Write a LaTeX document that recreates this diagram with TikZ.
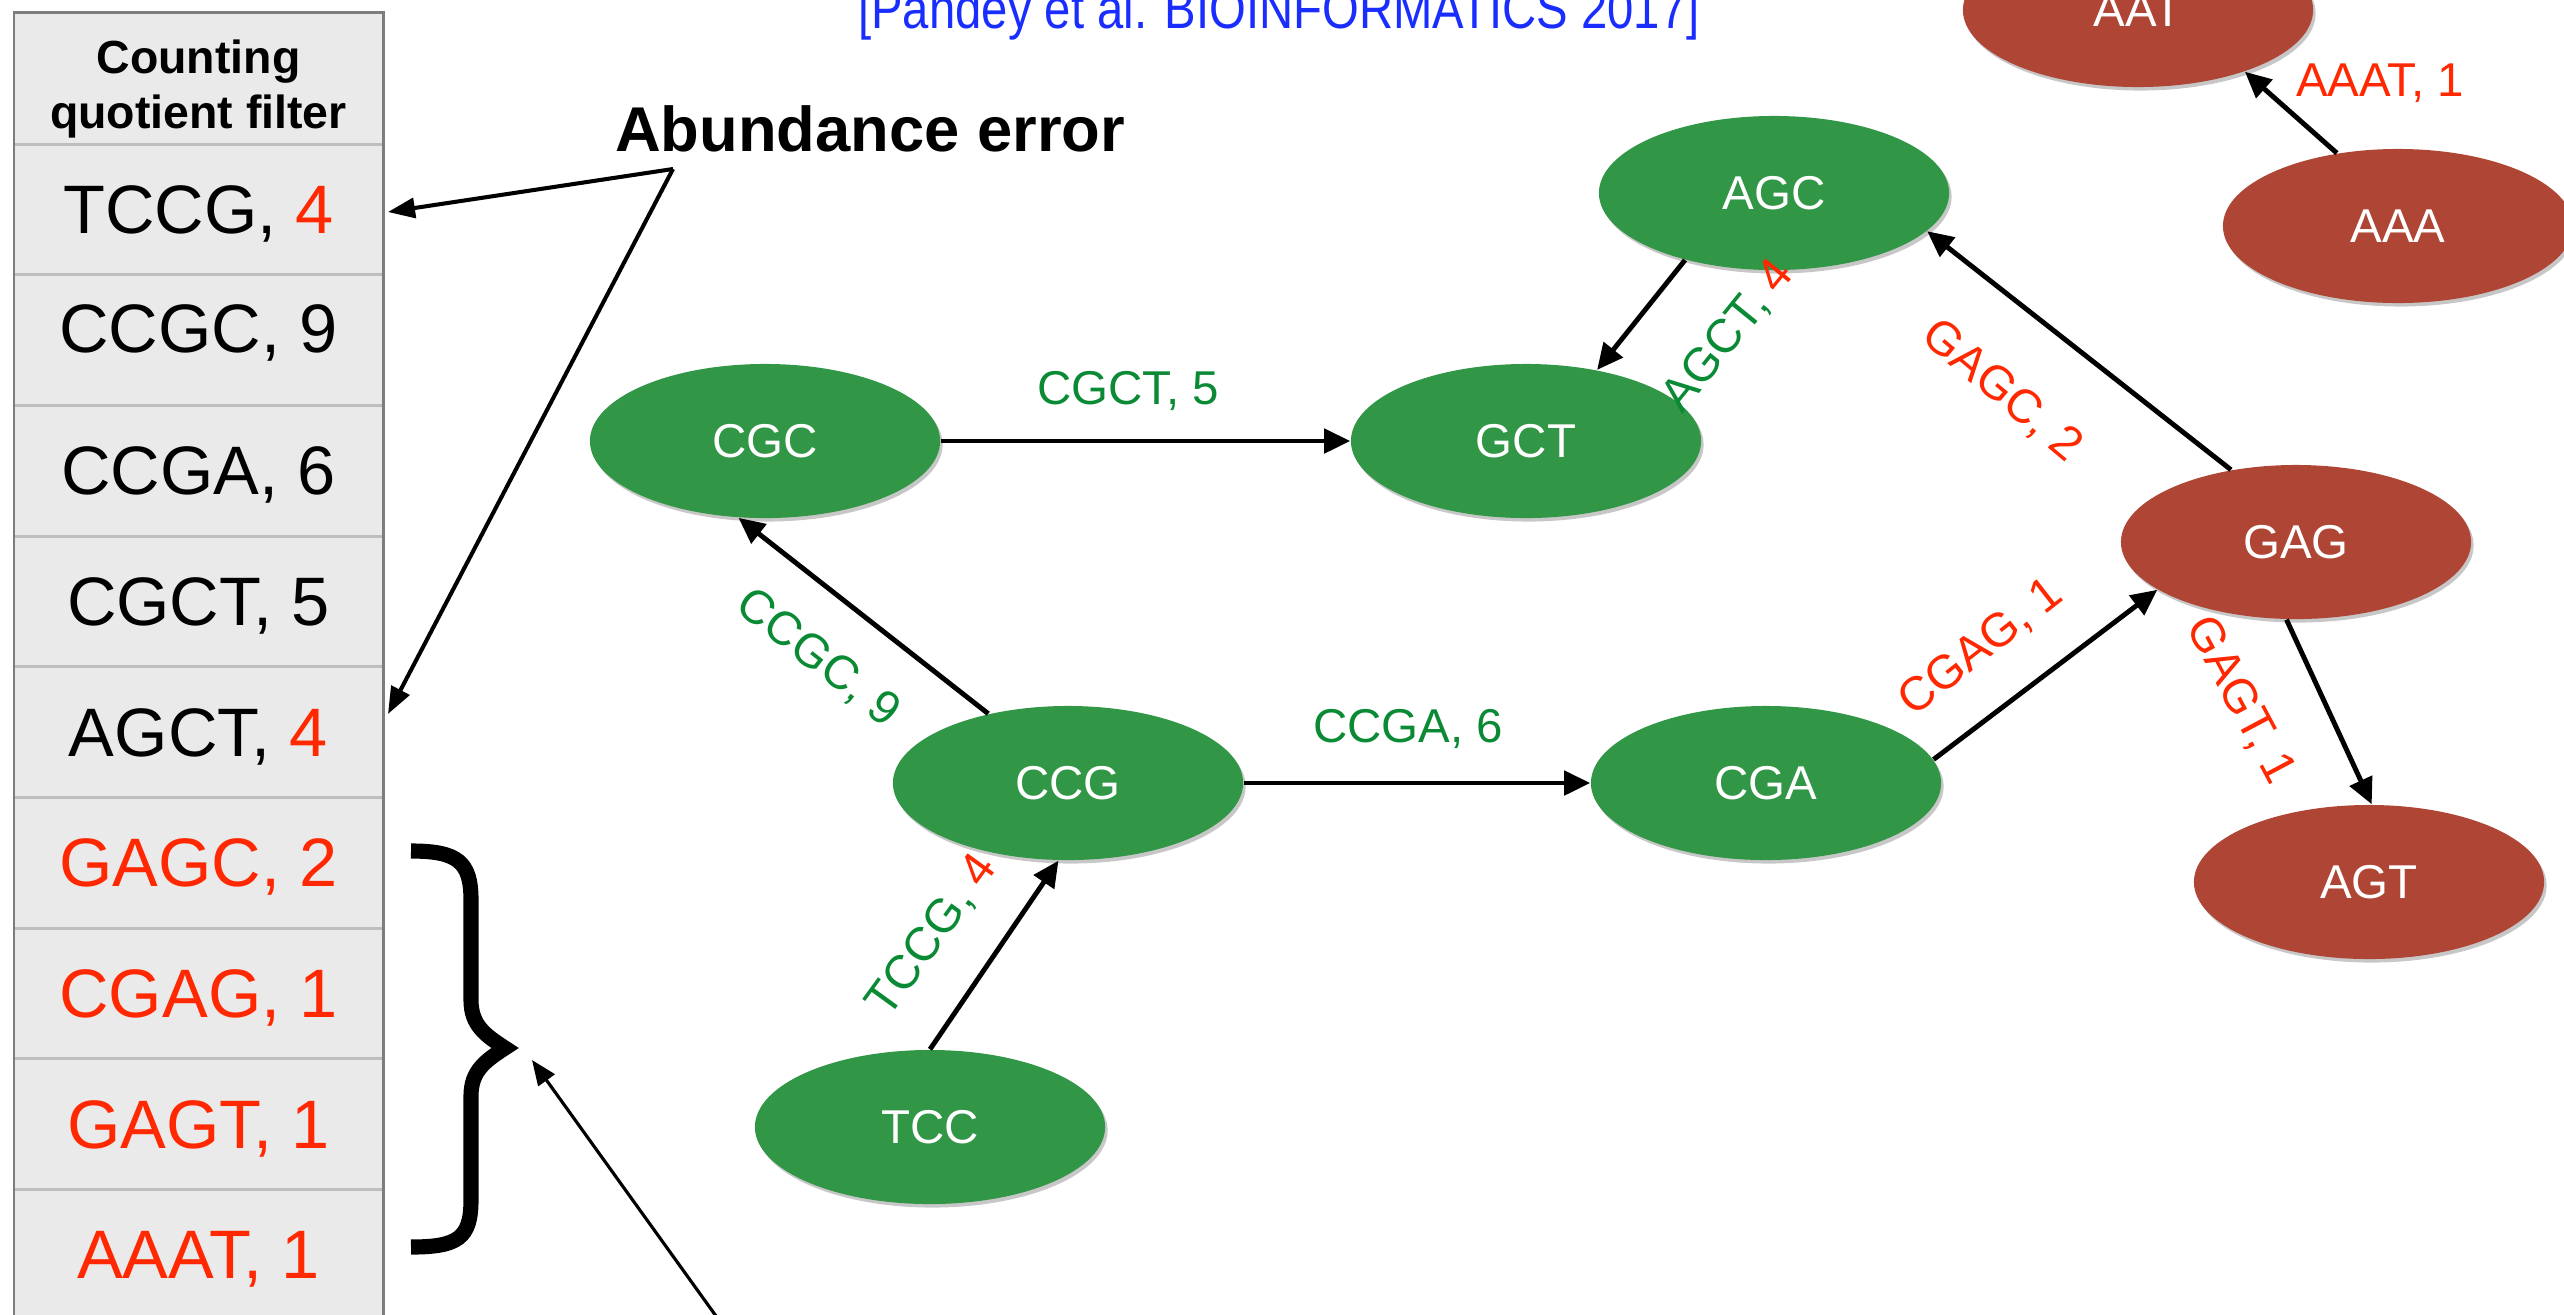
\documentclass[tikz,border=0pt]{standalone}
\usepackage{fontspec}
\setmainfont{Liberation Sans}
\usetikzlibrary{shapes.geometric,arrows.meta,shadows}
\definecolor{ngreen}{RGB}{49,150,69}
\definecolor{nred}{RGB}{175,70,53}
\definecolor{lgreen}{RGB}{10,138,52}
\definecolor{tred}{RGB}{255,40,0}
\definecolor{cblue}{RGB}{25,45,255}
\definecolor{tfill}{RGB}{234,234,234}
\definecolor{tborder}{RGB}{125,125,125}
\definecolor{tsep}{RGB}{190,190,190}
\newcommand{\fsz}[1]{\fontsize{#1}{#1}\selectfont}
\begin{document}
\begin{tikzpicture}[x=0.01cm,y=-0.01cm,
  kmer/.style={ellipse, minimum width=3.5cm, minimum height=1.54cm, inner sep=0pt,
    text=white, font=\fsz{13.5pt},
    drop shadow={shadow xshift=0.025cm, shadow yshift=-0.035cm, opacity=0.22, fill=black}},
  gk/.style={kmer, fill=ngreen},
  rk/.style={kmer, fill=nred},
  edge/.style={line width=1.4pt, -{Triangle[length=0.26cm,width=0.24cm]}},
  elab/.style={inner sep=0pt, text depth=0pt, font=\fsz{13.5pt}},
  rowtext/.style={inner sep=0pt, text depth=0pt, font=\fsz{19.5pt}},
  hdr/.style={inner sep=0pt, anchor=base, font=\bfseries\fsz{13.2pt}},
  pointer/.style={line width=1.15pt, -{Triangle[length=0.27cm,width=0.2cm]}},
]
\useasboundingbox (0,0) rectangle (2564,1314);
\clip (0,0) rectangle (2564,1314);

% table
\fill[tfill] (14,12) rectangle (383,1330);
\foreach \yy in {144,274.7,405.4,536.1,666.8,797.5,928.2,1058.9,1189.6}
  \draw[tsep, line width=0.85pt] (14,\yy) -- (383,\yy);
\draw[tborder, line width=0.85pt] (14,1330) -- (14,12) -- (383,12) -- (383,1330);

\node[hdr] (hdr1) at (198.5,73) {Counting};
\node[hdr] (hdr2) at (198.5,128) {quotient filter};

\node[rowtext] (r1) at (198.5,209.4) {TCCG, \textcolor{tred}{4}};
\node[rowtext] (r2) at (198.5,329) {CCGC, 9};
\node[rowtext] (r3) at (198.5,470.8) {CCGA, 6};
\node[rowtext] (r4) at (198.5,601.5) {CGCT, 5};
\node[rowtext] (r5) at (198.5,732.2) {AGCT, \textcolor{tred}{4}};
\node[rowtext, text=tred] (r6) at (198.5,862.9) {GAGC, 2};
\node[rowtext, text=tred] (r7) at (198.5,993.6) {CGAG, 1};
\node[rowtext, text=tred] (r8) at (198.5,1124.3) {GAGT, 1};
\node[rowtext, text=tred] (r9) at (198.5,1255) {AAAT, 1};

% citation and abundance error
\node[font=\fsz{16pt}, text=cblue, anchor=base, inner sep=0pt, xscale=0.84] (cite) at (1279,28) {[Pandey et al. BIOINFORMATICS 2017]};
\node[font=\bfseries\fsz{18pt}, anchor=base, inner sep=0pt] (abund) at (870,151) {Abundance error};
\coordinate (abapex) at (673,169);
\coordinate (errA) at (388,212);
\coordinate (errB) at (388,714);
\draw[pointer] (abapex) -- (errA);
\draw[pointer] (abapex) -- (errB);

% brace
\draw[line width=4.3pt] (411,851) .. controls (458,851) and (471,862) .. (471,900)
  -- (471,1000) .. controls (471,1025) and (485,1035) .. (505,1048)
  .. controls (485,1061) and (471,1071) .. (471,1096)
  -- (471,1200) .. controls (471,1238) and (458,1247) .. (411,1247);
\coordinate (bracetip) at (532,1060);
\coordinate (botfoot) at (716,1316);
\draw[line width=0.9pt, -{Triangle[length=0.25cm,width=0.2cm]}] (botfoot) -- (bracetip);

% k-mer nodes
\node[gk] (CGC) at (765,441) {CGC};
\node[gk] (GCT) at (1526,441) {GCT};
\node[gk] (AGC) at (1774,193) {AGC};
\node[gk] (CCG) at (1068,783) {CCG};
\node[gk] (CGA) at (1766,783) {CGA};
\node[gk] (TCC) at (930,1127) {TCC};
\node[rk] (GAG) at (2296,542) {GAG};
\node[rk] (AGT) at (2369,882) {AGT};
\node[rk] (AAA) at (2398,226) {AAA};
\node[rk] (AAT) at (2138,10) {AAT};

% edges
\draw[edge] (CGC.east) -- (GCT.west);
\draw[edge] (CCG.139) -- (CGC.251);
\draw[edge] (CCG.east) -- (CGA.west);
\draw[edge] (TCC.north) -- (CCG.263);
\draw[edge] (CGA.8) -- (GAG.199);
\draw[edge] (GAG.132) -- (AGC.-14);
\draw[edge] (AGC.217) -- (GCT.45);
\draw[edge] (GAG.263) -- (AGT.88);
\draw[edge] (AAA.130) -- (AAT.-30);

% edge labels
\node[elab, text=lgreen] (lCGCT) at (1128,388) {CGCT, 5};
\node[elab, text=lgreen, rotate=-38] (lCCGC) at (820,656) {CCGC, 9};
\node[elab, text=lgreen] (lCCGA) at (1408,726) {CCGA, 6};
\node[elab, text=lgreen, rotate=54] (lTCCG) at (930,934) {TCCG, \textcolor{tred}{4}};
\node[elab, text=tred, rotate=38] (lCGAG) at (1979,645) {CGAG, 1};
\node[elab, text=tred, rotate=-40] (lGAGC) at (2004,389) {GAGC, 2};
\node[elab, text=lgreen, rotate=51] (lAGCT) at (1726,334) {AGCT, \textcolor{tred}{4}};
\node[elab, text=tred, rotate=-62] (lGAGT) at (2243,699) {GAGT, 1};
\node[elab, text=tred] (lAAAT) at (2380,80) {AAAT, 1};
\end{tikzpicture}
\end{document}
